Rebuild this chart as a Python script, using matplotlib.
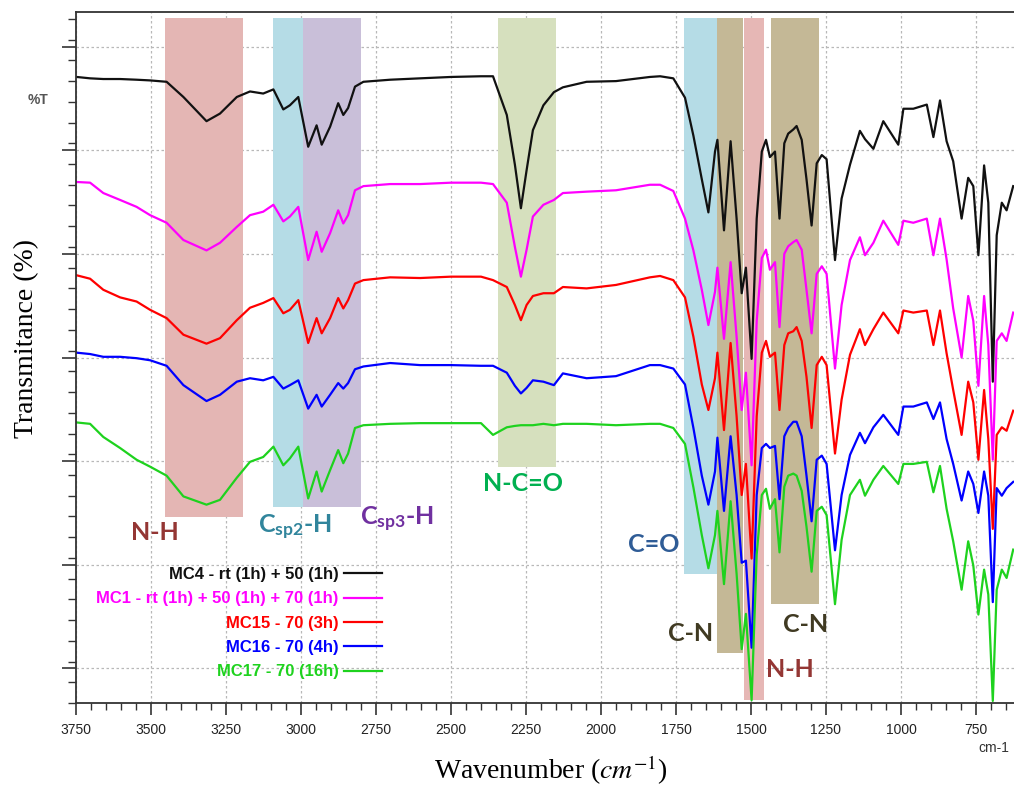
import matplotlib
matplotlib.use('Agg')
import matplotlib.pyplot as plt
from matplotlib.lines import Line2D
from matplotlib.ticker import MultipleLocator

plt.rcParams['mathtext.fontset'] = 'custom'
plt.rcParams['mathtext.rm'] = 'Lato:bold'
plt.rcParams['mathtext.it'] = 'Lato:bold'
plt.rcParams['mathtext.bf'] = 'Lato:bold'

# ---------------- data (wavenumber, cm-1; offset transmittance, a.u.) ----------------
wn = [3748, 3703, 3659, 3603, 3548, 3503, 3448, 3392, 3315, 3270, 3214, 3170,
      3126, 3092, 3059, 3037, 3009, 2976, 2948, 2931, 2903, 2876, 2859, 2843, 2820, 2792, 2703, 2603,
      2500, 2400, 2360, 2314, 2287, 2267, 2248, 2227, 2192, 2157, 2127, 2048, 1950, 1837, 1803, 1759, 1720,
      1692, 1664, 1642, 1620, 1612, 1590, 1568, 1548, 1531, 1517, 1498, 1481, 1464, 1450, 1437, 1420,
      1405, 1389, 1376, 1359, 1348, 1331, 1315, 1298, 1281, 1264, 1248, 1220, 1198, 1170, 1137,
      1120, 1092, 1059, 1009, 992, 959, 914, 892, 870, 848, 826, 798, 776, 759, 742, 723, 709, 694,
      681, 664, 648, 626]

mc4 = [90.6, 90.4, 90.3, 90.3, 90.2, 90.1, 89.9, 87.7, 84.2, 85.3, 87.7, 88.5,
       88.2, 88.8, 85.9, 86.5, 87.7, 80.5, 83.6, 80.8, 83.4, 86.8, 85.1, 86.1, 89.2, 89.9, 90.2, 90.4,
       90.6, 90.7, 90.7, 85.1, 77.9, 71.6, 77.1, 82.9, 86.5, 88.4, 89.1, 89.9, 90.0, 90.6, 90.7, 90.4, 87.6,
       82.1, 75.8, 71.0, 79.8, 81.5, 68.4, 81.3, 70.1, 59.3, 63.0, 49.8, 70.1, 79.8, 81.5, 79.0, 79.8,
       70.1, 81.0, 82.4, 83.0, 83.5, 81.5, 75.8, 69.1, 78.1, 79.3, 78.7, 64.1, 73.0, 77.9, 82.8,
       81.6, 80.2, 84.2, 80.8, 86.0, 86.0, 86.6, 81.9, 87.2, 81.3, 78.4, 70.1, 76.0, 74.8, 64.8, 77.8, 72.4, 46.5,
       67.7, 72.4, 71.3, 74.8]

mc1 = [75.4, 75.3, 73.8, 72.8, 71.8, 70.6, 69.5, 67.0, 65.5, 66.6, 68.9, 70.6,
       71.1, 72.1, 69.7, 70.4, 71.8, 64.1, 68.2, 65.3, 68.0, 71.3, 69.4, 70.6, 74.2, 74.8, 75.1, 75.1,
       75.3, 75.3, 75.1, 72.4, 66.0, 61.7, 65.6, 70.4, 72.1, 72.8, 73.8, 74.0, 74.2, 75.0, 75.0, 74.1, 70.1,
       65.5, 59.8, 54.7, 59.5, 63.0, 52.7, 63.8, 53.0, 42.4, 47.8, 34.4, 55.3, 64.4, 65.6, 62.7, 63.8,
       54.4, 65.0, 66.1, 66.7, 67.0, 65.6, 59.8, 53.5, 62.1, 63.2, 62.1, 48.4, 57.6, 64.1, 67.4,
       64.8, 66.6, 69.8, 66.3, 69.8, 69.5, 70.1, 64.8, 70.1, 64.2, 57.1, 50.0, 58.9, 55.3, 45.9, 58.9, 51.8, 35.2,
       52.4, 53.5, 52.4, 56.5]

mc15 = [61.9, 61.4, 59.8, 58.7, 58.1, 56.9, 55.7, 53.3, 52.0, 52.8, 55.4, 57.2,
        57.9, 58.6, 56.4, 56.9, 58.3, 52.1, 55.7, 53.5, 55.7, 58.6, 57.1, 58.3, 60.7, 61.2, 61.6, 61.5,
        61.7, 61.7, 61.2, 60.2, 57.6, 55.4, 57.6, 58.9, 59.3, 59.3, 60.2, 60.0, 60.5, 61.6, 61.8, 61.2, 58.7,
        53.0, 46.1, 42.4, 47.0, 50.7, 39.5, 52.1, 41.5, 30.1, 34.6, 20.9, 41.5, 50.7, 52.4, 50.1, 50.7,
        42.4, 51.8, 53.5, 53.8, 54.4, 52.4, 47.2, 39.8, 48.9, 50.1, 48.9, 36.1, 43.9, 50.4, 54.1,
        51.8, 54.1, 56.5, 53.5, 56.8, 56.5, 56.8, 51.8, 56.8, 50.6, 45.3, 38.8, 46.5, 43.5, 35.2, 45.3, 38.2, 25.2,
        38.8, 39.9, 39.4, 42.3]

mc16 = [50.7, 50.5, 50.1, 50.1, 49.9, 49.6, 48.8, 46.0, 43.7, 44.6, 46.5, 47.0,
        46.7, 47.2, 45.5, 46.0, 46.7, 42.6, 44.6, 42.9, 44.6, 46.3, 45.5, 46.3, 48.3, 48.7, 49.2, 48.9,
        48.9, 48.8, 48.8, 47.8, 45.9, 44.8, 45.6, 46.7, 46.5, 46.0, 47.7, 47.0, 47.3, 48.9, 48.9, 48.4, 46.1,
        39.8, 32.9, 28.7, 33.5, 38.4, 27.8, 38.6, 30.1, 20.3, 20.6, 8.0, 30.1, 36.9, 37.5, 36.9, 37.2,
        29.5, 38.6, 39.8, 40.7, 40.7, 38.6, 32.9, 26.3, 35.2, 35.8, 34.6, 22.1, 30.1, 35.9, 39.1,
        37.6, 39.9, 41.7, 38.8, 42.9, 42.9, 43.5, 41.1, 43.5, 38.2, 34.6, 29.3, 33.5, 31.7, 27.5, 33.5, 30.0, 14.6,
        31.1, 30.0, 31.1, 32.0]

mc17 = [40.6, 40.4, 38.5, 36.9, 35.2, 34.2, 32.9, 29.9, 28.7, 29.4, 32.6, 34.9,
        35.6, 37.1, 34.4, 35.4, 37.1, 29.6, 33.5, 30.6, 33.7, 36.6, 34.7, 36.1, 39.8, 40.2, 40.4, 40.5,
        40.5, 40.5, 38.8, 39.9, 40.1, 40.2, 40.2, 40.2, 40.4, 40.2, 40.4, 40.4, 40.2, 40.4, 40.4, 39.8, 37.5,
        31.2, 24.3, 19.5, 24.3, 27.8, 17.2, 29.2, 18.7, 7.8, 12.9, 0.4, 21.5, 30.1, 31.0, 28.1, 29.5,
        21.8, 31.3, 32.9, 33.2, 32.9, 30.7, 25.5, 19.0, 27.8, 28.4, 27.2, 14.3, 23.6, 30.1, 32.3,
        30.0, 32.3, 34.3, 31.7, 34.6, 34.6, 34.9, 30.5, 34.3, 28.1, 23.4, 16.4, 23.4, 19.9, 12.8, 19.3, 15.7, 0.3,
        16.4, 19.3, 18.1, 22.2]

series = [mc4, mc1, mc15, mc16, mc17]
labels = ['MC4 - rt (1h) + 50 (1h)', 'MC1 - rt (1h) + 50 (1h) + 70 (1h)',
          'MC15 - 70 (3h)', 'MC16 - 70 (4h)', 'MC17 - 70 (16h)']
colors = ['#111111', '#ff00ff', '#ff0000', '#0000ff', '#1ed21e']

# band assignments: (high wn, low wn, bottom frac, top frac, colour)
bands = [(3453, 3193, 0.269, 0.991, '#e4b6b4'),
         (3093, 2993, 0.284, 0.991, '#b5dce6'),
         (2993, 2800, 0.284, 0.991, '#c9bfd9'),
         (2343, 2150, 0.342, 0.991, '#d6e0be'),
         (1723, 1606, 0.187, 0.991, '#b5dce6'),
         (1612, 1526, 0.073, 0.991, '#c4b896'),
         (1522, 1457, 0.004, 0.991, '#e6b7b5'),
         (1433, 1272, 0.143, 0.991, '#c4b896')]

# annotations: (text, wn, y, colour, va)
notes = [('N-H', 3487, 24.7, '#943634', 'center'),
         ('C$_{\\mathrm{sp2}}$-H', 3020, 24.6, '#31859c', 'baseline'),
         ('C$_{\\mathrm{sp3}}$-H', 2682, 25.8, '#7030a0', 'baseline'),
         ('N-C=O', 2260, 31.8, '#00b050', 'center'),
         ('C=O', 1823, 22.9, '#2f5c96', 'center'),
         ('C-N', 1703, 10.1, '#403a22', 'center'),
         ('C-N', 1317, 11.3, '#403a22', 'center'),
         ('N-H', 1370, 4.8, '#943634', 'center')]

# ---------------- figure ----------------
fig = plt.figure(figsize=(10.14, 7.88), dpi=100)
ax = fig.add_axes([76 / 1014, 1 - 703 / 788, (1021 - 76) / 1014, 691 / 788])

ax.set_xlim(3750, 600)
ax.set_ylim(0, 100)

for hi, lo, b, t, c in bands:
    ax.axvspan(hi, lo, ymin=b, ymax=t, color=c, lw=0, zorder=1)

for y, c in zip(series, colors):
    ax.plot(wn, y, color=c, lw=1.6, zorder=2)

for txt, x, y, c, va in notes:
    ax.text(x, y, txt, color=c, fontsize=18, family='Lato', weight='bold',
            ha='center', va=va, zorder=3)

ax.xaxis.set_major_locator(MultipleLocator(250))
ax.xaxis.set_minor_locator(MultipleLocator(50))
ax.set_yticks([5, 20, 35, 50, 65, 80, 95])
ax.yaxis.set_minor_locator(MultipleLocator(3))
ax.set_yticklabels([])
ax.tick_params(axis='x', which='major', direction='out', length=8.6, width=1.2,
               color='#333333', pad=5.5, labelsize=10, labelcolor='#222222')
ax.tick_params(axis='x', which='minor', direction='out', length=5, width=1.0, color='#333333')
ax.tick_params(axis='y', which='major', direction='out', length=10, width=1.2, color='#333333')
ax.tick_params(axis='y', which='minor', direction='out', length=5.8, width=1.0, color='#333333')
for lab in ax.get_xticklabels():
    lab.set_family('Liberation Sans')

for s in ax.spines.values():
    s.set_color('#333333')
    s.set_linewidth(1.3)

ax.set_axisbelow(True)
ax.grid(True, which='major', color='#b8b8b8', ls=(0, (2, 2)), lw=0.9)

handles = [Line2D([], [], color=c, lw=1.6) for c in colors]
ax.legend(handles, labels, loc='upper right', bbox_to_anchor=(382 / 1014, 1 - 567 / 788),
          bbox_transform=fig.transFigure, frameon=False, markerfirst=False,
          labelcolor=colors, prop={'family': 'Liberation Sans', 'weight': 'bold', 'size': 12},
          handlelength=2.3, handletextpad=0.3, labelspacing=0.56, borderpad=0, borderaxespad=0)

fig.text(551 / 1014, 1 - 770 / 788, 'Wavenumber ($cm^{-1}$)', ha='center', va='center',
         family='Liberation Serif', fontsize=20, math_fontfamily='stix')
fig.text(27 / 1014, 1 - 338 / 788, 'Transmitance (%)', ha='center', va='center', rotation=90,
         family='Liberation Serif', fontsize=20)
fig.text(38 / 1014, 1 - 100 / 788, '%T', ha='center', va='center', family='Liberation Sans',
         fontsize=10, color='#555555', weight='bold')
fig.text(978 / 1014, 1 - 748 / 788, 'cm-1', ha='left', va='center', family='Liberation Sans',
         fontsize=10, color='#333333')

fig.savefig('out.png', dpi=100)
